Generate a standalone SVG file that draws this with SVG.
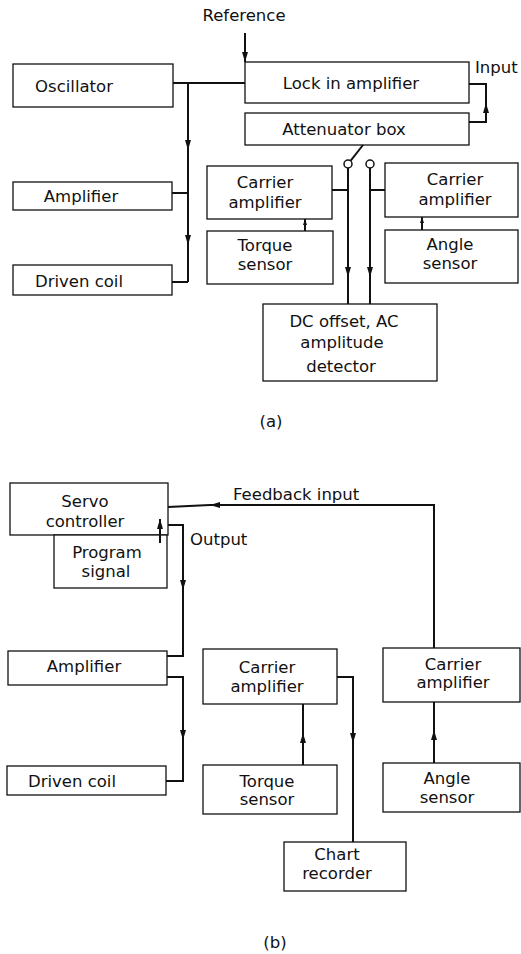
<svg xmlns="http://www.w3.org/2000/svg" width="521" height="954" viewBox="0 0 521 954">
<style>
.box{fill:#fff;stroke:#111;stroke-width:1.3}
.ln{fill:none;stroke:#111;stroke-width:2}
.t{font-family:"DejaVu Sans",sans-serif;font-size:16.5px;fill:#111;text-anchor:middle}
.tl{font-family:"DejaVu Sans",sans-serif;font-size:16.5px;fill:#111;text-anchor:start}
</style>
<defs>
<marker id="arr" markerUnits="userSpaceOnUse" viewBox="0 0 10 6" markerWidth="10" markerHeight="6" refX="10" refY="3" orient="auto"><path d="M0,0 L10,3 L0,6 z" fill="#111"/></marker>
<marker id="sarr" markerUnits="userSpaceOnUse" viewBox="0 0 6 4" markerWidth="6" markerHeight="4" refX="6" refY="2" orient="auto"><path d="M0,0 L6,2 L0,4 z" fill="#111"/></marker>
</defs>
<rect width="521" height="954" fill="#fff"/>

<text class="t" x="244" y="21">Reference</text>
<text class="tl" x="475" y="73">Input</text>
<text class="t" x="271" y="427">(a)</text>
<text class="tl" x="233" y="500">Feedback input</text>
<text class="tl" x="190" y="545">Output</text>
<text class="t" x="275" y="948">(b)</text>

<g id="oscillator"><rect class="box" x="13" y="64" width="160" height="43"/><text class="t" x="74" y="92">Oscillator</text></g>
<g id="lockin"><rect class="box" x="245" y="62" width="224" height="41"/><text class="t" x="351" y="89">Lock in amplifier</text></g>
<g id="attenuator"><rect class="box" x="245" y="113" width="224" height="32"/><text class="t" x="344" y="135">Attenuator box</text></g>
<g id="amplifier-a"><rect class="box" x="13" y="182" width="159" height="28"/><text class="t" x="81" y="202">Amplifier</text></g>
<g id="drivencoil-a"><rect class="box" x="13" y="265" width="159" height="30"/><text class="t" x="79" y="287">Driven coil</text></g>
<g id="carrier-a1"><rect class="box" x="207" y="166" width="125" height="53"/><text class="t" x="265" y="188">Carrier</text><text class="t" x="265" y="208">amplifier</text></g>
<g id="torque-a"><rect class="box" x="207" y="231" width="126" height="53"/><text class="t" x="265" y="251">Torque</text><text class="t" x="265" y="270">sensor</text></g>
<g id="carrier-a2"><rect class="box" x="385" y="163" width="133" height="54"/><text class="t" x="455" y="185">Carrier</text><text class="t" x="455" y="205">amplifier</text></g>
<g id="angle-a"><rect class="box" x="385" y="230" width="133" height="53"/><text class="t" x="450" y="250">Angle</text><text class="t" x="450" y="269">sensor</text></g>
<g id="dcoffset"><rect class="box" x="263" y="304" width="174" height="77"/><text class="t" x="344" y="327">DC offset, AC</text><text class="t" x="342" y="348">amplitude</text><text class="t" x="341" y="372">detector</text></g>

<g id="servo"><rect class="box" x="10" y="483" width="158" height="52"/><text class="t" x="85" y="507">Servo</text><text class="t" x="85" y="527">controller</text></g>
<g id="program"><rect class="box" x="54" y="535" width="113" height="53"/><text class="t" x="107" y="558">Program</text><text class="t" x="106" y="577">signal</text></g>
<g id="amplifier-b"><rect class="box" x="8" y="651" width="159" height="34"/><text class="t" x="84" y="672">Amplifier</text></g>
<g id="drivencoil-b"><rect class="box" x="7" y="766" width="159" height="29"/><text class="t" x="72" y="787">Driven coil</text></g>
<g id="carrier-b1"><rect class="box" x="203" y="649" width="134" height="55"/><text class="t" x="267" y="673">Carrier</text><text class="t" x="267" y="692">amplifier</text></g>
<g id="torque-b"><rect class="box" x="203" y="765" width="134" height="49"/><text class="t" x="267" y="787">Torque</text><text class="t" x="267" y="805">sensor</text></g>
<g id="carrier-b2"><rect class="box" x="383" y="648" width="137" height="54"/><text class="t" x="453" y="670">Carrier</text><text class="t" x="453" y="688">amplifier</text></g>
<g id="angle-b"><rect class="box" x="383" y="763" width="137" height="49"/><text class="t" x="447" y="784">Angle</text><text class="t" x="447" y="803">sensor</text></g>
<g id="chart"><rect class="box" x="284" y="842" width="122" height="49"/><text class="t" x="337" y="860">Chart</text><text class="t" x="337" y="879">recorder</text></g>

<g id="connectors">
<!-- (a) -->
<path class="ln" d="M245 33 V62" marker-end="url(#arr)"/>
<path class="ln" d="M173 83 H245"/>
<path class="ln" d="M188 83 V150 V245 V282" marker-mid="url(#arr)"/>
<path class="ln" d="M172 193 H188"/>
<path class="ln" d="M172 282 H188"/>
<path class="ln" d="M469 122 H486 V103" marker-end="url(#arr)"/>
<path class="ln" d="M486 103 V84 H469"/>
<path class="ln" stroke-width="1.5" d="M363 145 L350.5 160.8"/>
<circle cx="348" cy="164" r="4" fill="#fff" stroke="#111" stroke-width="1.5"/>
<circle cx="370" cy="164" r="4" fill="#fff" stroke="#111" stroke-width="1.5"/>
<path class="ln" d="M348 168 V277 V304" marker-mid="url(#arr)"/>
<path class="ln" d="M370 168 V277 V304" marker-mid="url(#arr)"/>
<path class="ln" d="M332 190 H348"/>
<path class="ln" d="M385 190 H370"/>
<path class="ln" stroke-width="1.5" d="M305 231 V219" marker-end="url(#sarr)"/>
<path class="ln" stroke-width="1.5" d="M422 230 V217" marker-end="url(#sarr)"/>
<!-- (b) -->
<path class="ln" stroke-width="1.7" d="M434 648 V505 H210" marker-end="url(#arr)"/>
<path class="ln" stroke-width="1.7" d="M210 505 L168 507"/>
<path class="ln" d="M168 525 H183 V590" marker-end="url(#arr)"/>
<path class="ln" d="M183 590 V656 H167"/>
<path class="ln" d="M167 677 H183 V740" marker-end="url(#arr)"/>
<path class="ln" d="M183 740 V781 H166"/>
<path class="ln" stroke-width="1.5" d="M160 543 V519" marker-end="url(#arr)"/>
<path class="ln" d="M337 677 H353 V743" marker-end="url(#arr)"/>
<path class="ln" d="M353 743 V842"/>
<path class="ln" d="M303 765 V733" marker-end="url(#arr)"/>
<path class="ln" d="M303 733 V704"/>
<path class="ln" d="M434 763 V730" marker-end="url(#arr)"/>
<path class="ln" d="M434 730 V702"/>
</g>
</svg>
